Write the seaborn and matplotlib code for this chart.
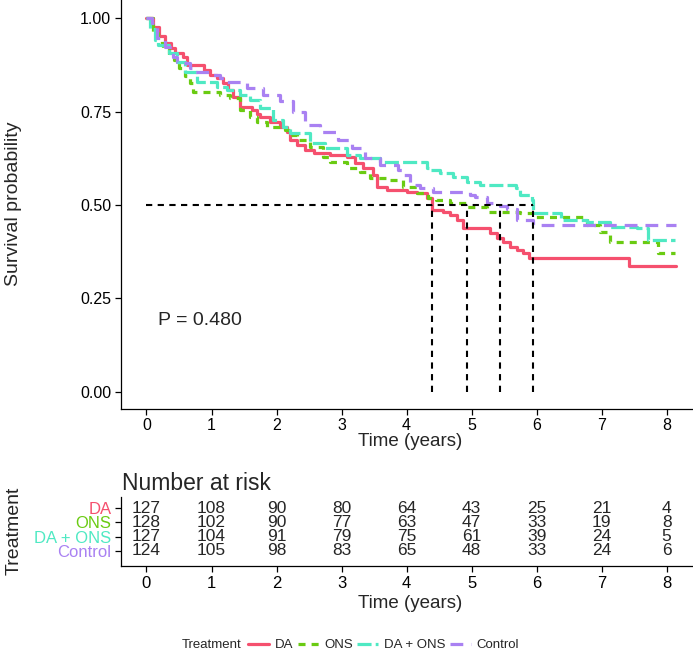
import numpy as np
import pandas as pd
import matplotlib
matplotlib.use("Agg")
import matplotlib.pyplot as plt
import seaborn as sns
from matplotlib.lines import Line2D

# ---------------- data ----------------
groups = ["DA", "ONS", "DA + ONS", "Control"]

da_time = [0, 0.10, 0.20, 0.28, 0.38, 0.44, 0.56, 0.62, 0.88, 0.98, 1.08, 1.18, 1.26, 1.33,
           1.44, 1.62, 1.70, 1.75, 1.90, 2.05, 2.16, 2.21, 2.31, 2.44, 2.57, 2.82, 3.08, 3.20,
           3.33, 3.49, 3.54, 3.70, 4.00, 4.16, 4.31, 4.39, 4.56, 4.67, 4.77, 4.87, 5.28, 5.39,
           5.49, 5.59, 5.70, 5.79, 5.88, 7.42, 8.15]
da_surv = [1.0, 0.976, 0.953, 0.934, 0.920, 0.907, 0.896, 0.875, 0.862, 0.848, 0.840, 0.826,
           0.808, 0.790, 0.763, 0.755, 0.745, 0.735, 0.722, 0.709, 0.696, 0.674, 0.660, 0.647,
           0.639, 0.634, 0.629, 0.612, 0.599, 0.580, 0.549, 0.541, 0.535, 0.531, 0.518, 0.487,
           0.482, 0.473, 0.460, 0.439, 0.424, 0.411, 0.401, 0.388, 0.380, 0.371, 0.358, 0.336,
           0.336]

ons_time = [0, 0.10, 0.18, 0.26, 0.34, 0.42, 0.50, 0.60, 0.67, 0.72, 1.13, 1.28, 1.44, 1.59,
            1.70, 1.85, 2.13, 2.20, 2.31, 2.52, 2.72, 2.82, 3.08, 3.28, 3.44, 3.70, 3.95, 4.16,
            4.33, 4.45, 4.67, 4.93, 5.23, 5.74, 5.95, 6.78, 6.98, 7.10, 7.13, 7.87, 8.13]
ons_surv = [1.0, 0.960, 0.933, 0.920, 0.902, 0.888, 0.868, 0.845, 0.826, 0.803, 0.795, 0.786,
            0.755, 0.736, 0.723, 0.709, 0.700, 0.688, 0.674, 0.656, 0.629, 0.615, 0.599, 0.589,
            0.572, 0.567, 0.549, 0.531, 0.518, 0.513, 0.505, 0.495, 0.482, 0.478, 0.468, 0.447,
            0.428, 0.424, 0.401, 0.371, 0.371]

daons_time = [0, 0.05, 0.13, 0.18, 0.34, 0.47, 0.59, 0.77, 1.08, 1.24, 1.44, 1.59, 1.75, 1.95,
              2.10, 2.21, 2.52, 2.75, 3.08, 3.28, 3.59, 4.31, 4.36, 4.52, 4.72, 4.93, 5.13, 5.69,
              5.75, 5.93, 5.95, 6.37, 6.78, 7.13, 7.54, 7.72, 8.13]
daons_surv = [1.0, 0.970, 0.942, 0.928, 0.907, 0.883, 0.857, 0.830, 0.816, 0.808, 0.795, 0.781,
              0.759, 0.728, 0.709, 0.693, 0.666, 0.652, 0.634, 0.626, 0.615, 0.599, 0.594, 0.585,
              0.575, 0.562, 0.553, 0.546, 0.527, 0.513, 0.478, 0.460, 0.455, 0.441, 0.438, 0.406,
              0.406]

ctrl_time = [0, 0.08, 0.16, 0.28, 0.41, 0.47, 0.52, 0.67, 0.75, 0.98, 1.13, 1.24, 1.54, 1.79,
             2.05, 2.26, 2.44, 2.67, 2.95, 3.16, 3.36, 3.59, 3.87, 3.95, 4.05, 4.20, 4.40, 4.98,
             5.05, 5.23, 5.44, 5.54, 5.70, 5.95, 8.15]
ctrl_surv = [1.0, 0.987, 0.947, 0.923, 0.897, 0.883, 0.880, 0.867, 0.857, 0.848, 0.840, 0.830,
             0.813, 0.795, 0.778, 0.749, 0.714, 0.696, 0.674, 0.653, 0.626, 0.607, 0.594, 0.580,
             0.554, 0.546, 0.535, 0.527, 0.522, 0.505, 0.497, 0.488, 0.460, 0.447, 0.447]

risk_times = [0, 1, 2, 3, 4, 5, 6, 7, 8]
risk_da = [127, 108, 90, 80, 64, 43, 25, 21, 4]
risk_ons = [128, 102, 90, 77, 63, 47, 33, 19, 8]
risk_daons = [127, 104, 91, 79, 75, 61, 39, 24, 5]
risk_control = [124, 105, 98, 83, 65, 48, 33, 24, 6]
p_text = "P = 0.480"

# ---------------- styling ----------------
colors = {"DA": "#F5506E", "ONS": "#6ACB12", "DA + ONS": "#4FE9C3", "Control": "#A981F2"}
LW = 2.3
dashes = {"DA": "", "ONS": (2.2, 1.9), "DA + ONS": (4.4, 1.3), "Control": (4.0, 2.5)}

sns.set_theme(style="ticks")
plt.rcParams["font.family"] = ["Liberation Sans", "DejaVu Sans"]
plt.rcParams["axes.linewidth"] = 0.9
plt.rcParams["xtick.major.width"] = 0.9
plt.rcParams["ytick.major.width"] = 0.9

frames = []
for g, t, s in [("DA", da_time, da_surv), ("ONS", ons_time, ons_surv),
                ("DA + ONS", daons_time, daons_surv), ("Control", ctrl_time, ctrl_surv)]:
    frames.append(pd.DataFrame({"time": t, "surv": s, "Treatment": g}))
df = pd.concat(frames, ignore_index=True)

W, H = 693, 654
fig = plt.figure(figsize=(W / 100, H / 100), dpi=100)


def rect(l, t, r, b):
    return [l / W, 1 - b / H, (r - l) / W, (b - t) / H]


def fy(py):
    return 1 - py / H


ax = fig.add_axes(rect(121, 0, 692, 408.7))
sns.lineplot(data=df, x="time", y="surv", hue="Treatment", style="Treatment",
             hue_order=groups, style_order=groups, palette=colors, dashes=dashes,
             drawstyle="steps-post", estimator=None, sort=False, lw=LW, legend=False, ax=ax)

# median lines
medians = []
for g in groups:
    sub = df[df["Treatment"] == g]
    below = sub[sub["surv"] <= 0.5]
    if len(below):
        medians.append(below["time"].iloc[0])
ax.plot([0, max(medians)], [0.5, 0.5], color="black", ls=(0, (3.0, 2.6)), lw=1.5)
for m in medians:
    ax.plot([m, m], [0, 0.5], color="black", ls=(0, (3.0, 2.6)), lw=1.5)

ax.text(0.17, 0.19, p_text, fontsize=14, ha="left", va="center")

ax.set_xlim(-0.392, 8.39)
ax.set_ylim(-0.0455, 1.049)
ax.set_xticks(risk_times)
ax.set_yticks([0, 0.25, 0.5, 0.75, 1.0])
ax.set_yticklabels(["0.00", "0.25", "0.50", "0.75", "1.00"])
ax.tick_params(axis="both", labelsize=11.5, length=4.5, pad=2.5, colors="black")
ax.set_xlabel("")
ax.set_ylabel("")
sns.despine(ax=ax)
for sp in ax.spines.values():
    sp.set_color("black")
fig.text(14 / W, fy(204), "Survival probability", rotation=90, fontsize=14,
         ha="center", va="center")
fig.text(410 / W, fy(442), "Time (years)", fontsize=13.5, ha="center", va="center")

# ---------------- risk table ----------------
rt = fig.add_axes(rect(121, 497, 692, 566))
rt.set_xlim(-0.392, 8.39)
rt.set_ylim(4.05, -0.77)
for i, vals in enumerate([risk_da, risk_ons, risk_daons, risk_control]):
    for t, v in zip(risk_times, vals):
        rt.text(t, i, str(v), fontsize=12.5, ha="center", va="center")
rt.set_yticks(range(len(groups)))
rt.set_yticklabels(groups)
rt.set_xticks(risk_times)
rt.tick_params(axis="both", labelsize=12, length=4.5, pad=2.5, colors="black")
for lab, g in zip(rt.get_yticklabels(), groups):
    lab.set_color(colors[g])
sns.despine(ax=rt)
for sp in rt.spines.values():
    sp.set_color("black")
fig.text(122 / W, fy(483), "Number at risk", fontsize=16.5, ha="left", va="center")
fig.text(14 / W, fy(531), "Treatment", rotation=90, fontsize=14, ha="center", va="center")
fig.text(410 / W, fy(603), "Time (years)", fontsize=13.5, ha="center", va="center")

# ---------------- legend ----------------
fig.text(182 / W, fy(645), "Treatment", fontsize=9.5, ha="left", va="center")
handles = [Line2D([], [], color=colors[g], lw=LW,
                  linestyle="-" if dashes[g] == "" else (0, dashes[g])) for g in groups]
fig.legend(handles, groups, loc="center left", bbox_to_anchor=(248 / W, fy(645)), ncol=4,
           frameon=False, fontsize=9.5, handlelength=1.6, handletextpad=0.4,
           columnspacing=0.35, borderaxespad=0, borderpad=0)

fig.savefig("out.png", dpi=100)
